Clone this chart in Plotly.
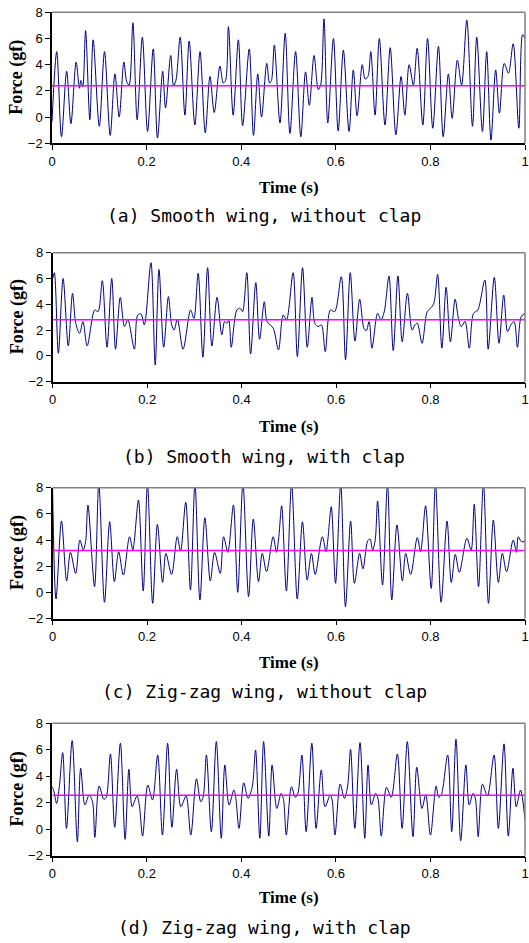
import plotly.graph_objects as go

# ---- data (time in s, force in gf) ----
a_t = [0.000,0.010,0.020,0.031,0.040,0.051,0.058,0.061,0.065,0.071,0.080,0.087,0.100,0.111,0.123,0.133,0.142,0.152,0.158,0.163,
       0.171,0.180,0.191,0.202,0.214,0.223,0.234,0.240,0.251,0.257,0.262,0.271,0.281,0.290,0.302,0.313,0.324,0.334,0.343,0.355,
       0.362,0.367,0.373,0.383,0.394,0.403,0.417,0.426,0.435,0.443,0.454,0.460,0.464,0.470,0.482,0.493,0.503,0.515,0.526,0.536,
       0.544,0.554,0.563,0.568,0.575,0.583,0.595,0.605,0.616,0.628,0.637,0.645,0.656,0.662,0.668,0.674,0.683,0.692,0.704,0.715,
       0.727,0.738,0.746,0.755,0.764,0.772,0.784,0.794,0.805,0.817,0.827,0.838,0.846,0.857,0.866,0.877,0.889,0.898,0.910,0.919,
       0.928,0.938,0.946,0.956,0.965,0.975,0.987,0.995,1.000]
a_f = [-0.35,5.0,-1.5,3.5,-0.5,4.2,2.2,2.8,2.3,6.6,-0.2,5.9,-0.7,5.0,-1.4,3.3,0.0,4.2,2.7,2.45,
       7.2,-0.2,6.1,-1.1,5.2,-1.6,3.5,0.7,4.7,2.4,2.8,6.1,0.15,5.8,-0.6,5.0,-1.2,3.1,0.35,3.9,
       2.6,2.8,6.9,0.15,5.9,-0.65,5.2,-1.4,3.3,0.0,4.1,2.6,2.8,5.5,-0.45,6.4,-1.25,5.0,-1.5,3.45,
       0.9,4.7,2.1,2.45,7.5,-0.45,6.0,-1.05,5.1,-1.1,3.6,0.1,4.0,2.9,3.1,5.0,0.15,6.0,-0.6,5.3,
       -1.35,3.1,0.15,4.0,2.45,5.25,-0.6,6.0,-0.85,5.4,-1.5,3.3,-0.1,4.35,2.45,7.4,-0.7,6.1,-1.1,5.0,
       -1.75,3.6,0.3,4.1,3.35,5.6,-0.85,6.3,6.0]
a_mean = 2.4

b_t = [0.000,0.0035,0.012,0.022,0.033,0.042,0.049,0.057,0.064,0.073,0.089,0.096,0.105,0.115,0.125,0.133,0.143,0.152,0.159,0.173,
       0.180,0.187,0.194,0.208,0.217,0.225,0.235,0.245,0.252,0.257,0.264,0.276,0.292,0.299,0.308,0.318,0.328,0.337,0.348,0.358,
       0.364,0.369,0.373,0.378,0.390,0.397,0.402,0.411,0.419,0.430,0.438,0.448,0.454,0.467,0.478,0.488,0.495,0.509,0.518,0.529,
       0.539,0.549,0.555,0.562,0.569,0.577,0.588,0.597,0.611,0.620,0.630,0.640,0.650,0.659,0.664,0.670,0.676,0.688,0.695,0.702,
       0.712,0.721,0.731,0.740,0.751,0.761,0.767,0.772,0.782,0.793,0.800,0.807,0.815,0.824,0.833,0.842,0.852,0.859,0.865,0.873,
       0.882,0.891,0.900,0.915,0.922,0.935,0.945,0.955,0.963,0.970,0.977,0.984,0.992,1.000]
b_f = [6.0,6.45,0.2,6.0,0.77,4.85,2.5,1.75,2.66,0.77,3.56,3.43,5.83,0.67,6.0,0.52,4.54,2.27,2.79,0.52,
       3.17,3.25,2.4,7.23,-0.7,6.7,0.67,4.6,2.4,2.0,2.84,0.52,3.56,2.9,6.4,-0.1,6.84,0.77,4.54,1.63,
       2.66,2.53,2.74,0.67,3.56,3.69,3.43,6.45,0.15,5.68,1.29,4.2,2.66,2.14,0.46,3.17,2.79,6.45,-0.05,6.84,
       0.67,4.54,2.53,2.27,2.4,0.33,3.56,3.43,6.14,-0.3,6.45,1.15,4.4,2.14,1.96,2.66,0.6,3.3,2.79,3.43,
       6.19,0.41,6.19,1.1,4.85,2.0,2.4,2.53,0.98,3.43,3.69,4.08,6.32,0.6,5.32,1.1,4.39,2.92,2.27,2.66,
       0.6,3.3,3.56,5.88,0.52,6.09,0.98,4.72,1.88,2.4,2.66,0.67,3.05,3.3]
b_mean = 2.8

c_t = [0.000,0.0074,0.019,0.030,0.038,0.049,0.058,0.065,0.070,0.075,0.089,0.098,0.110,0.121,0.131,0.140,0.150,0.163,0.170,0.173,
       0.182,0.192,0.201,0.212,0.222,0.233,0.240,0.252,0.264,0.271,0.282,0.292,0.3015,0.312,0.3225,0.334,0.343,0.355,0.362,0.371,
       0.374,0.383,0.392,0.403,0.415,0.425,0.436,0.444,0.453,0.467,0.474,0.479,0.485,0.495,0.506,0.518,0.529,0.539,0.548,0.556,
       0.571,0.579,0.583,0.590,0.599,0.610,0.620,0.631,0.639,0.650,0.657,0.667,0.672,0.6775,0.683,0.688,0.6985,0.709,0.718,0.729,
       0.7405,0.7475,0.758,0.772,0.779,0.7826,0.7896,0.8015,0.8105,0.8225,0.835,0.844,0.8525,0.861,0.877,0.886,0.8925,0.9017,0.912,0.9227,
       0.933,0.9437,0.952,0.961,0.975,0.982,0.9857,0.9926,1.000]
c_f = [8.3,-0.5,5.45,0.87,3.06,1.45,4.0,3.24,3.87,6.67,0.43,8.3,-0.76,5.4,0.82,3.1,1.32,4.25,3.24,3.87,
       7.06,0.1,8.3,-0.84,5.2,0.76,2.98,1.37,4.25,3.16,6.88,0.18,8.3,-0.59,5.7,0.87,3.06,1.45,4.25,3.06,
       3.57,6.67,0.0,8.3,-0.33,5.6,0.82,2.98,1.58,4.25,3.06,4.25,6.62,0.1,8.3,-0.5,5.4,0.94,2.98,1.37,
       4.25,3.1,4.13,6.55,0.69,8.3,-1.1,5.45,0.69,2.98,1.8,3.92,4.08,3.24,4.0,6.98,0.56,8.3,-0.59,5.15,
       0.87,2.98,1.37,4.18,3.1,4.0,6.62,0.3,8.3,-0.76,5.45,0.76,2.9,1.53,4.13,3.24,6.73,0.43,8.3,-0.84,
       5.53,0.76,2.98,1.58,4.0,3.06,4.25,3.87,3.9]
c_mean = 3.2

d_t = [0.000,0.0036,0.009,0.015,0.022,0.030,0.042,0.053,0.060,0.069,0.078,0.085,0.090,0.099,0.109,0.114,0.123,0.132,0.144,0.154,
       0.162,0.169,0.179,0.184,0.191,0.202,0.212,0.223,0.233,0.244,0.253,0.263,0.272,0.283,0.293,0.305,0.314,0.319,0.326,0.3365,
       0.347,0.3575,0.365,0.374,0.384,0.388,0.395,0.405,0.414,0.423,0.430,0.439,0.447,0.458,0.465,0.475,0.484,0.489,0.495,0.506,
       0.514,0.5195,0.528,0.537,0.549,0.558,0.569,0.577,0.588,0.592,0.598,0.609,0.618,0.625,0.631,0.640,0.651,0.661,0.668,0.675,
       0.684,0.689,0.696,0.707,0.717,0.730,0.740,0.751,0.763,0.771,0.782,0.790,0.800,0.812,0.8175,0.823,0.8364,0.845,0.854,0.864,
       0.875,0.882,0.890,0.895,0.901,0.910,0.9205,0.9345,0.9436,0.9556,0.9647,0.9745,0.9815,0.9906,1.000]
d_f = [3.2,2.83,1.94,3.26,5.78,0.05,6.69,-0.96,4.6,1.82,2.58,2.07,-0.63,3.26,2.25,2.4,5.68,0.13,6.49,-0.78,
       4.52,1.69,2.5,1.82,-0.53,3.33,2.2,5.6,-0.45,6.49,0.13,4.52,1.69,2.5,-0.45,3.8,2.07,2.4,5.6,-0.2,
       6.62,-0.7,4.85,1.82,2.95,2.4,0.05,3.5,2.32,3.2,5.98,-0.7,6.62,-0.53,4.85,1.56,2.7,2.25,-0.45,3.2,
       2.4,2.7,5.6,-0.2,6.49,0.05,4.47,1.69,2.58,2.2,-0.45,3.4,2.32,3.33,6.03,0.05,6.54,-0.7,4.85,1.82,
       2.7,2.3,-0.53,3.16,2.4,5.68,0.05,6.62,-0.58,4.67,1.56,2.6,-0.45,3.26,2.4,2.6,5.6,-0.2,6.8,-0.88,
       4.85,1.82,2.7,2.3,-0.58,3.4,2.5,5.6,0.05,6.44,-0.53,4.6,1.69,2.95,0.68]
d_mean = 2.55

captions = ["(a) Smooth wing, without clap", "(b) Smooth wing, with clap",
            "(c) Zig-zag wing, without clap", "(d) Zig-zag wing, with clap"]
x_ticks = [0, 0.2, 0.4, 0.6, 0.8, 1]
x_tick_text = ["0", "0.2", "0.4", "0.6", "0.8", "1"]
y_ticks = [-2, 0, 2, 4, 6, 8]

W, H = 529, 943
# panel pixel boxes: (left, right, top, bottom, time-title y, caption y)
boxes = [
    (52.0, 525.0, 12.3, 143.3, 187, 215),
    (52.7, 525.0, 252.7, 381.7, 426, 456),
    (52.5, 525.0, 487.7, 618.5, 662, 691),
    (52.3, 525.0, 723.3, 855.5, 897, 927),
]
series = [(a_t, a_f, a_mean), (b_t, b_f, b_mean), (c_t, c_f, c_mean), (d_t, d_f, d_mean)]

fig = go.Figure()
layout = {}
annotations = []
shapes = []
tick_font = dict(family="Liberation Sans, Arial", size=13, color="black")
for i, ((t, f, m), (l, r, tp, bt, ty, cy)) in enumerate(zip(series, boxes)):
    n = "" if i == 0 else str(i + 1)
    xa, ya = "x" + n, "y" + n
    fig.add_trace(go.Scatter(x=t, y=f, mode="lines", xaxis=xa, yaxis=ya,
                             line=dict(color="#000080", width=1, shape="spline", smoothing=0.9),
                             showlegend=False, hoverinfo="skip"))
    fig.add_trace(go.Scatter(x=[0, 1], y=[m, m], mode="lines", xaxis=xa, yaxis=ya,
                             line=dict(color="#FF00FF", width=1.5), showlegend=False, hoverinfo="skip"))
    layout["xaxis" + n] = dict(domain=[l / W, r / W], range=[0, 1], anchor=ya, automargin=False,
                               tickvals=x_ticks, ticktext=x_tick_text, ticks="outside", ticklen=5,
                               tickcolor="black", showline=True, linecolor="black", linewidth=1.5,
                               showgrid=False, zeroline=False, tickfont=tick_font, fixedrange=True)
    layout["yaxis" + n] = dict(domain=[1 - bt / H, 1 - tp / H], range=[-2, 8], anchor=xa, automargin=False,
                               tickvals=y_ticks, ticks="outside", ticklen=5, tickcolor="black",
                               showline=True, linecolor="black", linewidth=1.5,
                               showgrid=False, zeroline=False, tickfont=tick_font, fixedrange=True)
    shapes.append(dict(type="line", xref=xa + " domain", yref=ya + " domain",
                       x0=0, x1=1, y0=1, y1=1, line=dict(color="#808080", width=1.5)))
    shapes.append(dict(type="line", xref=xa + " domain", yref=ya + " domain",
                       x0=1, x1=1, y0=0, y1=1, line=dict(color="#808080", width=1.5)))
    annotations.append(dict(text="<b>Time (s)</b>", xref="paper", yref="paper",
                            x=((l + r) / 2) / W, y=1 - ty / H, xanchor="center", yanchor="middle",
                            showarrow=False,
                            font=dict(family="Liberation Serif, Times New Roman", size=17, color="black")))
    annotations.append(dict(text="<b>Force (gf)</b>", xref="paper", yref="paper", textangle=-90,
                            x=17 / W, y=1 - ((tp + bt) / 2) / H, xanchor="center", yanchor="middle",
                            showarrow=False,
                            font=dict(family="Liberation Serif, Times New Roman", size=18, color="black")))
    annotations.append(dict(text=captions[i], xref="paper", yref="paper",
                            x=264 / W, y=1 - cy / H, xanchor="center", yanchor="middle",
                            showarrow=False,
                            font=dict(family="DejaVu Sans Mono", size=18, color="black")))

fig.update_layout(width=W, height=H, margin=dict(l=0, r=0, t=0, b=0),
                  paper_bgcolor="white", plot_bgcolor="white",
                  annotations=annotations, shapes=shapes, **layout)
fig.write_html("out.html", config={"displayModeBar": False},
               post_script="document.body.style.margin='0';document.body.style.overflow='hidden';")
